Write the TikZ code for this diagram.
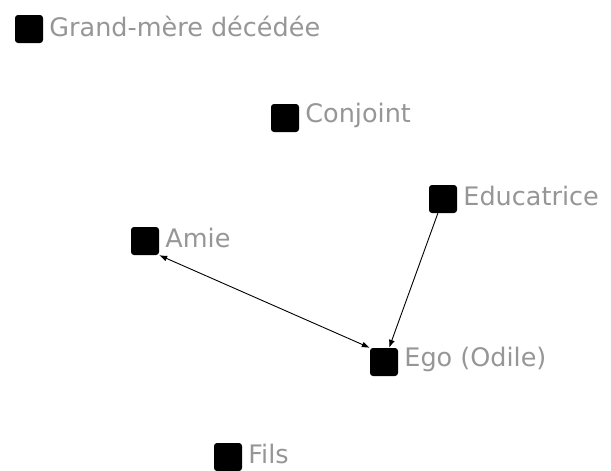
\documentclass[tikz,border=0pt]{standalone}
\usepackage{fontspec}
\setmainfont{DejaVu Sans}
\usepackage{tikz}
\usetikzlibrary{arrows.meta, positioning}

\definecolor{labelgray}{RGB}{150,150,150}

\begin{document}
\begin{tikzpicture}[x=1pt, y=-1pt,
        person/.style={rectangle, fill=black, rounded corners=3pt, minimum size=28pt, inner sep=0pt},
        who/.style={text=labelgray, font=\fontsize{25.5}{27}\selectfont, inner sep=0pt, anchor=west, yshift=3pt},
        tie/.style={-{Latex[length=8pt, width=6pt]}, line width=0.9pt, black}]
        \useasboundingbox (0,0) rectangle (611,471);
        % \tikzstyle{every node}=[font=\sffamily]
        \node[person] (gm) at (29,29) {};
        \node[person] (conj) at (285,118) {};
        \node[person] (educ) at (443,199) {};
        \node[person] (amie) at (145,241) {};
        \node[person] (ego) at (384,362) {};
        \node[person] (fils) at (228,457) {};

        \node[who] (gm_t) [right = 6pt of gm] {Grand-mère décédée};
        \node[who] (conj_t) [right = 6pt of conj] {Conjoint};
        \node[who] (educ_t) [right = 6pt of educ] {Educatrice};
        \node[who] (amie_t) [right = 6pt of amie] {Amie};
        \node[who] (ego_t) [right = 6pt of ego] {Ego (Odile)};
        \node[who] (fils_t) [right = 6pt of fils] {Fils};

        \draw[tie, {Latex[length=8pt, width=6pt]}-{Latex[length=8pt, width=6pt]}] (amie.south east) -- (ego.north west);
        \draw[tie] (educ) -- (ego);
    \end{tikzpicture}
\end{document}
